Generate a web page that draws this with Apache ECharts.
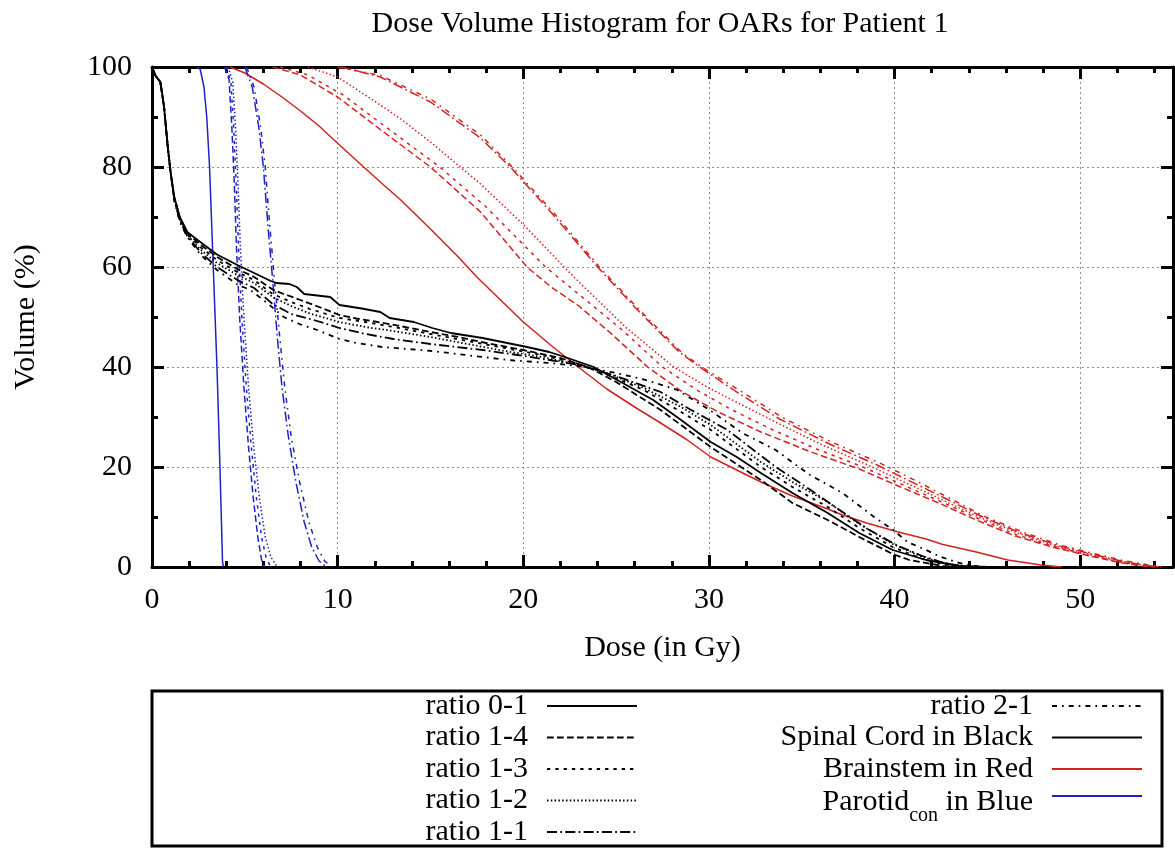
<!DOCTYPE html>
<html>
<head>
<meta charset="utf-8">
<title>Dose Volume Histogram for OARs for Patient 1</title>
<script src="https://cdn.jsdelivr.net/npm/echarts@6/dist/echarts.min.js"></script>
<style>
  html, body { margin: 0; padding: 0; background: #ffffff; }
  #chart { width: 1175px; height: 848px; }
</style>
</head>
<body>
<div id="chart"></div>
<script>
// ---- Tick values ----
const doseTicks = [0, 10, 20, 30, 40, 50];
const volumeTicks = [0, 20, 40, 60, 80, 100];

// ---- Spinal cord DVH curves: [dose (Gy), volume (%)] ----
const cord01 = [[0,100],[0.2,98.2],[0.45,97],[0.65,92],[0.85,84],[1,79],[1.2,74],[1.5,70],[1.9,67],[2.6,65],[3.5,62.5],[4.6,60.4],[5.5,58.8],[6.4,57.2],[6.7,56.8],[7.4,56.6],[7.8,56],[8.2,54.6],[9.6,54],[10.1,52.4],[11.3,51.7],[12.3,51],[12.8,49.8],[14.1,49],[15.1,47.8],[16.1,46.8],[17.8,45.8],[20.2,44],[21.4,43],[22.4,41.8],[23.8,40],[25.5,36.5],[27,33.4],[28.5,29.4],[30.1,25],[31.5,22],[32.8,18.8],[34.5,14.8],[36.4,10.8],[38.1,6.8],[39.9,3.4],[41.7,1.4],[43.5,0.2],[45,0]];
const cord14 = [[0,100],[0.2,98.2],[0.45,97],[0.65,92],[0.85,84],[1,79],[1.2,74],[1.5,69.8],[1.9,66.8],[2.6,64.5],[3.5,62],[4.6,59.6],[5.5,58],[6.5,55.5],[7.1,54.6],[8,53.4],[9,52],[10.1,50.4],[11,49.7],[12,49.1],[13.5,48.1],[15,47],[16.5,46],[18,44.8],[20,43.4],[22,41.8],[23.5,40],[25,37],[27.4,31.4],[30.1,24],[32.8,17.4],[34.5,12.8],[36.4,9.4],[38.1,6],[39.9,2.6],[40.8,1.4],[42.6,0.2],[43.5,0]];
const cord13 = [[0,100],[0.2,98.2],[0.45,97],[0.65,92],[0.85,84],[1,79],[1.2,73.8],[1.5,69.6],[1.9,66.6],[2.6,64],[3.5,61.4],[4.6,59],[5.5,57.4],[6.5,54.6],[7.5,53],[8.5,51.6],[10.1,49.8],[11.5,49],[13,48],[15,46.6],[17,45.2],[19,43.8],[21,42.4],[23,40.6],[24.5,38.5],[26.5,35.4],[28.5,31],[30.1,27.4],[32.8,20],[34.5,16],[36.4,12],[38.1,7.8],[39.9,4],[41.5,1.6],[42.6,0.6],[44,0]];
const cord12 = [[0,100],[0.2,98.2],[0.45,97],[0.65,92],[0.85,84],[1,79],[1.2,73.6],[1.5,69.4],[1.9,66.4],[2.6,63.5],[3.5,60.8],[4.6,58.4],[5.5,56.8],[6.5,54],[7.5,52.2],[8.5,50.7],[10.1,49],[11.5,48],[13,47.2],[15,46],[17,44.6],[19,43.2],[21,42],[23,40.4],[24.5,38.8],[26.5,35.8],[28.5,32],[30.1,28.4],[32.8,21],[34.5,17],[36.4,13],[38.1,8.6],[39.9,4.6],[41.5,2],[42.6,0.8],[44,0]];
const cord11 = [[0,100],[0.2,98.2],[0.45,97],[0.65,92],[0.85,84],[1,79],[1.2,73.4],[1.5,69.2],[1.9,66.2],[2.6,63],[3.5,60],[4.6,57.4],[5.5,55.8],[6.5,52.6],[7.5,50.6],[8.9,49.2],[10.1,47.8],[11.5,46.6],[13,45.6],[15,44.6],[17.8,43.4],[19.5,42.5],[21.4,41.4],[23,40.4],[25,38.2],[27.4,35],[29,31.5],[31,27.4],[33.6,20],[35.4,15.6],[37.2,11],[38.6,7.5],[40.2,4.2],[41.5,2.2],[42.5,1],[43.5,0.2],[44.5,0]];
const cord21 = [[0,100],[0.2,98.2],[0.45,97],[0.65,92],[0.85,84],[1,79],[1.2,73.2],[1.5,69],[1.9,66],[2.6,62.5],[3.5,59.4],[4.6,56.5],[5.3,55.4],[6.2,52.8],[7.1,50],[8,48.5],[8.9,47.4],[10.1,45.6],[11,44.8],[12.4,44],[15.1,43.2],[17.8,42],[19.5,41.3],[21.4,40.8],[23,40.2],[25,38.8],[26.5,37.5],[28.3,35.4],[30,31.5],[31.8,26.8],[33.6,23.4],[35.4,18.5],[37.2,14.8],[38.9,10],[39.9,7.5],[40.7,5],[41.7,3.4],[42.5,2],[43.5,0.8],[44.3,0.2],[45,0]];

// ---- Brainstem DVH curves ----
const stem01 = [[4.2,100],[5,98.8],[6,96.6],[7,94],[8,91.2],[9,88.2],[9.75,85.6],[11.4,80],[12.3,77],[13.4,73.4],[15,67.6],[16.5,62],[17.5,58],[18.75,53.5],[20,49],[21.6,44],[23.1,39.6],[24.5,35.6],[26,32],[27.4,28.8],[28.8,25.5],[30.1,22],[31.5,19.4],[32.8,17],[34.5,14.2],[36.4,11.6],[37.2,10.4],[38.5,8.8],[40.2,7],[41.7,5.6],[42.6,4.5],[44.4,3],[46.1,1.4],[47.9,0.4],[49,0]];
const stem14 = [[6.5,100],[8,98.4],[10,94],[12.3,87.5],[15,80],[17.7,71],[20.2,60],[21.5,56],[23,52.2],[24.7,46.8],[26.7,40],[28.5,35.2],[30.5,31],[32.8,27],[35.5,23],[38.1,19.6],[40.2,16.2],[42.5,12.6],[44.4,9.4],[46.5,6.2],[48.5,4],[50.3,2.4],[52,1],[53.3,0.2],[54,0]];
const stem13 = [[6.9,100],[8.4,98.4],[10.3,94.4],[12.6,88],[15.5,80],[18,72],[21.2,60],[23.5,53],[25.3,47.5],[27.5,40],[29.3,35.5],[31.2,31.5],[33.4,27.5],[35.8,23.6],[38.3,20],[40.4,16.5],[42.6,12.9],[44.5,9.7],[46.6,6.4],[48.6,4.1],[50.3,2.5],[52,1.1],[53.4,0.3],[54.1,0]];
const stem12 = [[8.4,100],[10,98],[12.3,92.4],[13.4,89.6],[15,85],[17.7,76.6],[20,68.5],[22.2,60],[23,57],[25.5,48],[28.1,40],[30,35.8],[32,32],[33.8,28.6],[36,24.6],[38.5,20.5],[40.4,17.2],[42.7,13.2],[44.6,9.9],[46.7,6.7],[48.7,4.2],[50.4,2.6],[52.1,1.2],[53.5,0.3],[54.2,0]];
const stem11 = [[10.2,100],[12.3,98],[15,93],[17.7,85.8],[19.3,80],[21.6,70.5],[24,60],[26,52],[28.4,43],[29.5,40],[31.5,35],[33.8,29.6],[36.5,24.6],[39,20.5],[40.6,17.6],[42.8,13.6],[44.7,10.1],[46.8,6.8],[48.8,4.3],[50.5,2.7],[52.2,1.2],[53.6,0.3],[54.3,0]];
const stem21 = [[10,100],[12.3,98.3],[15,93.6],[17.7,86.4],[19.4,80],[21.7,70.6],[24.1,60],[26.1,52],[28.5,43],[29.6,40],[31.7,35.2],[34,29.8],[36.6,25],[39.2,20.8],[40.8,17.9],[43,13.7],[44.8,10.2],[46.9,7],[48.9,4.4],[50.6,2.8],[52.3,1.3],[53.7,0.4],[54.4,0]];

// ---- Contralateral parotid DVH curves ----
const par01 = [[2.4,100],[2.6,99.5],[2.8,96],[2.95,90],[3.1,80],[3.3,60],[3.5,40],[3.66,20],[3.8,1],[3.85,0]];
const par14 = [[3.9,100],[4.15,97.5],[4.3,88],[4.42,78],[4.55,64],[4.72,50],[4.95,36],[5.2,24],[5.45,14],[5.7,6],[5.9,1.5],[6.05,0]];
const par13 = [[4,100],[4.25,97],[4.4,88],[4.52,78],[4.66,64],[4.84,50],[5.08,36],[5.35,24],[5.62,14],[5.9,6],[6.15,1.8],[6.4,0]];
const par12 = [[4.1,100],[4.35,97],[4.5,88],[4.62,78],[4.76,64],[4.95,50],[5.2,36],[5.48,24],[5.78,14],[6.1,6],[6.4,2],[6.75,0]];
const par11 = [[5,100],[5.4,96],[5.75,88],[6,80],[6.25,68],[6.5,57.4],[6.75,46],[7,36],[7.35,26],[7.75,17],[8.2,9],[8.6,4],[9,1.2],[9.4,0]];
const par21 = [[5.1,100],[5.5,96],[5.85,88],[6.1,80],[6.35,68],[6.6,57.4],[6.88,46],[7.15,36],[7.5,26],[7.95,17],[8.45,9],[8.9,4],[9.3,1.2],[9.7,0]];

// ---- Legend labels ----
const ratioNames = ['ratio 0-1', 'ratio 1-4', 'ratio 1-3', 'ratio 1-2', 'ratio 1-1', 'ratio 2-1'];
const organNames = ['Spinal Cord in Black', 'Brainstem in Red', 'Parotid in Blue'];

// ---- Styling ----
const FONT = 'Liberation Serif';
// gnuplot-like dash patterns, one per fraction ratio
const dashStyles = ['solid', [6.7, 3.3], [3.3, 5], [1.5, 2.3], [10, 3.3, 1.7, 3.3], [5, 5, 1.7, 5]];
const organColors = ['#000000', '#d42020', '#2020c8'];
const organWidths = [1.8, 1.5, 1.5];
const organCurves = [
  [cord01, cord14, cord13, cord12, cord11, cord21],
  [stem01, stem14, stem13, stem12, stem11, stem21],
  [par01, par14, par13, par12, par11, par21]
];
const organKeys = ['Spinal Cord', 'Brainstem', 'Parotid'];

const series = [];
organCurves.forEach((curves, o) => {
  curves.forEach((curve, r) => {
    series.push({
      type: 'line',
      name: organKeys[o] + ' / ' + ratioNames[r],
      data: curve,
      xAxisIndex: 0,
      yAxisIndex: 0,
      symbol: 'none',
      showSymbol: false,
      silent: true,
      smooth: false,
      lineStyle: { color: organColors[o], width: organWidths[o], type: dashStyles[r] },
      z: o === 0 ? 4 : 3
    });
  });
});

// Legend-only series (no data): line styles for the ratios and the organ colours
ratioNames.forEach((name, r) => {
  series.push({
    type: 'line', name: name, data: [], symbol: 'none', silent: true,
    lineStyle: { color: '#000000', width: 1.6, type: dashStyles[r] },
    itemStyle: { color: '#000000' }
  });
});
organNames.forEach((name, o) => {
  series.push({
    type: 'line', name: name, data: [], symbol: 'none', silent: true,
    lineStyle: { color: organColors[o], width: 1.6, type: 'solid' },
    itemStyle: { color: organColors[o] }
  });
});

// Legend layout: two right-aligned columns inside a framed box
const rowY = [706, 737.5, 769, 800.5, 832];
const col1Right = 1175 - 638;
const col2Right = 1175 - 1143;
const legendColumns = [
  { names: ratioNames.slice(0, 5), right: col1Right },
  { names: [ratioNames[5]].concat(organNames), right: col2Right }
];
const richText = {
  n: { fontFamily: FONT, fontSize: 30, lineHeight: 30, color: '#000', verticalAlign: 'top' },
  s: { fontFamily: FONT, fontSize: 20, lineHeight: 20, color: '#000', verticalAlign: 'top', padding: [19, 0, 0, 0] }
};
const legends = [];
legendColumns.forEach(col => {
  col.names.forEach((name, i) => {
    const sub = name === 'Parotid in Blue';
    legends.push({
      data: [name],
      orient: 'horizontal',
      align: 'right',
      right: col.right,
      top: rowY[i] - (sub ? 25.5 : 15),
      padding: 0,
      itemGap: 0,
      itemWidth: 90,
      itemHeight: 4,
      selectedMode: false,
      itemStyle: { opacity: 0 },
      formatter: sub ? '{n|Parotid}{s|con}{n| in Blue}' : '{name}',
      textStyle: {
        fontFamily: FONT, fontSize: 30, lineHeight: 30, color: '#000',
        padding: sub ? [12, 14, 0, 0] : [0, 14, 0, 0],
        rich: richText
      }
    });
  });
});

const tickLine = { color: '#000', width: 3 };
const gridLine = { color: '#8c8c8c', width: 1, type: [2, 3] };
const labelStyle = { fontFamily: FONT, fontSize: 30, color: '#000' };

const chart = echarts.init(document.getElementById('chart'), null, { renderer: 'canvas' });
chart.setOption({
  animation: false,
  backgroundColor: '#ffffff',
  title: {
    text: 'Dose Volume Histogram for OARs for Patient 1',
    left: 660,
    top: 8,
    padding: 0,
    textAlign: 'center',
    textStyle: { fontFamily: FONT, fontSize: 30, fontWeight: 'normal', color: '#000', lineHeight: 32 }
  },
  grid: { left: 152, right: 2, top: 67, bottom: 281, containLabel: false },
  xAxis: [
    {
      type: 'value', position: 'bottom', min: doseTicks[0], max: 55, interval: 10,
      name: 'Dose (in Gy)', nameLocation: 'middle', nameGap: 66,
      nameTextStyle: { fontFamily: FONT, fontSize: 30, color: '#000' },
      axisLine: { onZero: false, lineStyle: tickLine },
      axisTick: { inside: true, length: 12, lineStyle: tickLine },
      axisLabel: Object.assign({ margin: 18, showMaxLabel: false,
        formatter: v => doseTicks.indexOf(v) >= 0 ? String(v) : '' }, labelStyle),
      splitLine: { show: true, lineStyle: gridLine }
    },
    {
      type: 'value', position: 'bottom', min: 0, max: 55, interval: 2,
      axisLine: { show: false, onZero: false },
      axisTick: { inside: true, length: 6, lineStyle: tickLine },
      axisLabel: { show: false }, splitLine: { show: false }
    },
    {
      type: 'value', position: 'top', min: 0, max: 55, interval: 10,
      axisLine: { onZero: false, lineStyle: tickLine },
      axisTick: { inside: true, length: 12, lineStyle: tickLine },
      axisLabel: { show: false }, splitLine: { show: false }
    },
    {
      type: 'value', position: 'top', min: 0, max: 55, interval: 2,
      axisLine: { show: false, onZero: false },
      axisTick: { inside: true, length: 6, lineStyle: tickLine },
      axisLabel: { show: false }, splitLine: { show: false }
    }
  ],
  yAxis: [
    {
      type: 'value', position: 'left', min: volumeTicks[0], max: volumeTicks[volumeTicks.length - 1], interval: 20,
      name: 'Volume (%)', nameLocation: 'middle', nameGap: 111, nameRotate: 90,
      nameTextStyle: { fontFamily: FONT, fontSize: 30, color: '#000', lineHeight: 30 },
      axisLine: { onZero: false, lineStyle: tickLine },
      axisTick: { inside: true, length: 12, lineStyle: tickLine },
      minorTick: { show: true, splitNumber: 2, length: 6, lineStyle: tickLine },
      axisLabel: Object.assign({ margin: 20 }, labelStyle),
      splitLine: { show: true, lineStyle: gridLine }
    },
    {
      type: 'value', position: 'right', min: 0, max: 100, interval: 20,
      axisLine: { onZero: false, lineStyle: tickLine },
      axisTick: { inside: true, length: 12, lineStyle: tickLine },
      minorTick: { show: true, splitNumber: 2, length: 6, lineStyle: tickLine },
      axisLabel: { show: false }, splitLine: { show: false }
    }
  ],
  legend: legends,
  graphic: [
    {
      type: 'rect', silent: true, z: 0,
      shape: { x: 152, y: 691, width: 1010, height: 155 },
      style: { fill: 'none', stroke: '#000', lineWidth: 3 }
    }
  ],
  series: series
});
</script>
</body>
</html>
